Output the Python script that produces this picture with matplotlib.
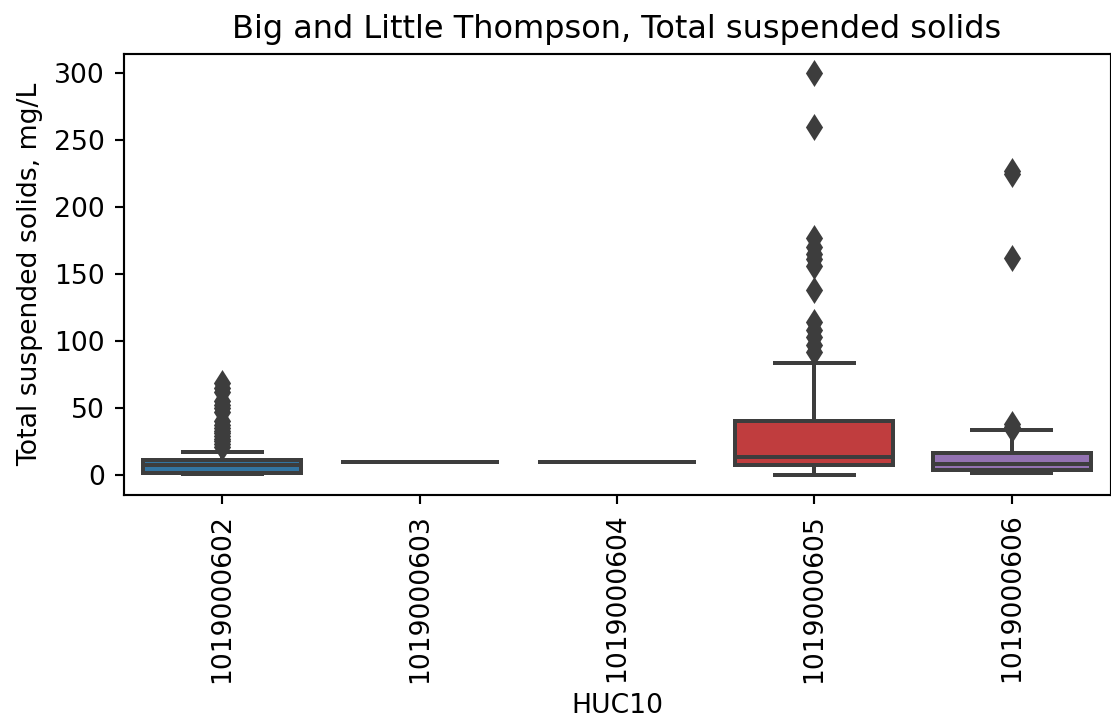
import matplotlib
matplotlib.use("Agg")
import matplotlib.pyplot as plt

# HUC10 groups and box statistics (mg/L)
huc10 = ['1019000602', '1019000603', '1019000604', '1019000605', '1019000606']
colors = ['#3274a1', '#e1812c', '#3a923a', '#c03d3e', '#9372b2']

q1 = [1.5, 10, 10, 7.5, 3.7]
med = [7.5, 10, 10, 13.7, 8.5]
q3 = [11, 10, 10, 40, 16]
whislo = [0.5, 10, 10, 0, 1.3]
whishi = [17.4, 10, 10, 83.4, 33.6]

fliers = [
    [21, 23, 25, 27, 29, 31, 33, 35, 37, 40, 47, 50, 52, 55, 62, 65, 68.5],
    [],
    [],
    [92, 97, 103, 108, 114, 138, 156, 161, 165, 170, 177, 260, 300],
    [34, 36, 38, 162, 225, 227],
]

stats = []
for i in range(len(huc10)):
    stats.append({'med': med[i], 'q1': q1[i], 'q3': q3[i],
                  'whislo': whislo[i], 'whishi': whishi[i],
                  'fliers': fliers[i], 'label': huc10[i]})

gray = '#3d3d3d'
fig = plt.figure(figsize=(1111/192, 728/192), dpi=192)
ax = fig.add_axes([0.1112, 0.3201, 0.8884, 0.6058])

bp = ax.bxp(stats, positions=range(len(huc10)), widths=0.8, patch_artist=True,
            boxprops=dict(edgecolor=gray, linewidth=1.5),
            medianprops=dict(color=gray, linewidth=1.5),
            whiskerprops=dict(color=gray, linewidth=1.5),
            capprops=dict(color=gray, linewidth=1.5),
            flierprops=dict(marker='d', markerfacecolor=gray, markeredgecolor=gray,
                            markersize=6, linestyle='none'))
for patch, c in zip(bp['boxes'], colors):
    patch.set_facecolor(c)

ax.set_xlim(-0.5, len(huc10) - 0.5)
ax.set_ylim(-15, 314.5)
ax.set_yticks([0, 50, 100, 150, 200, 250, 300])
ax.set_xticks(range(len(huc10)))
ax.set_xticklabels(huc10, rotation=90)
ax.set_xlabel('HUC10')
ax.set_ylabel('Total suspended solids, mg/L')
ax.set_title('Big and Little Thompson, Total suspended solids')

fig.savefig('out.png', dpi=192)
